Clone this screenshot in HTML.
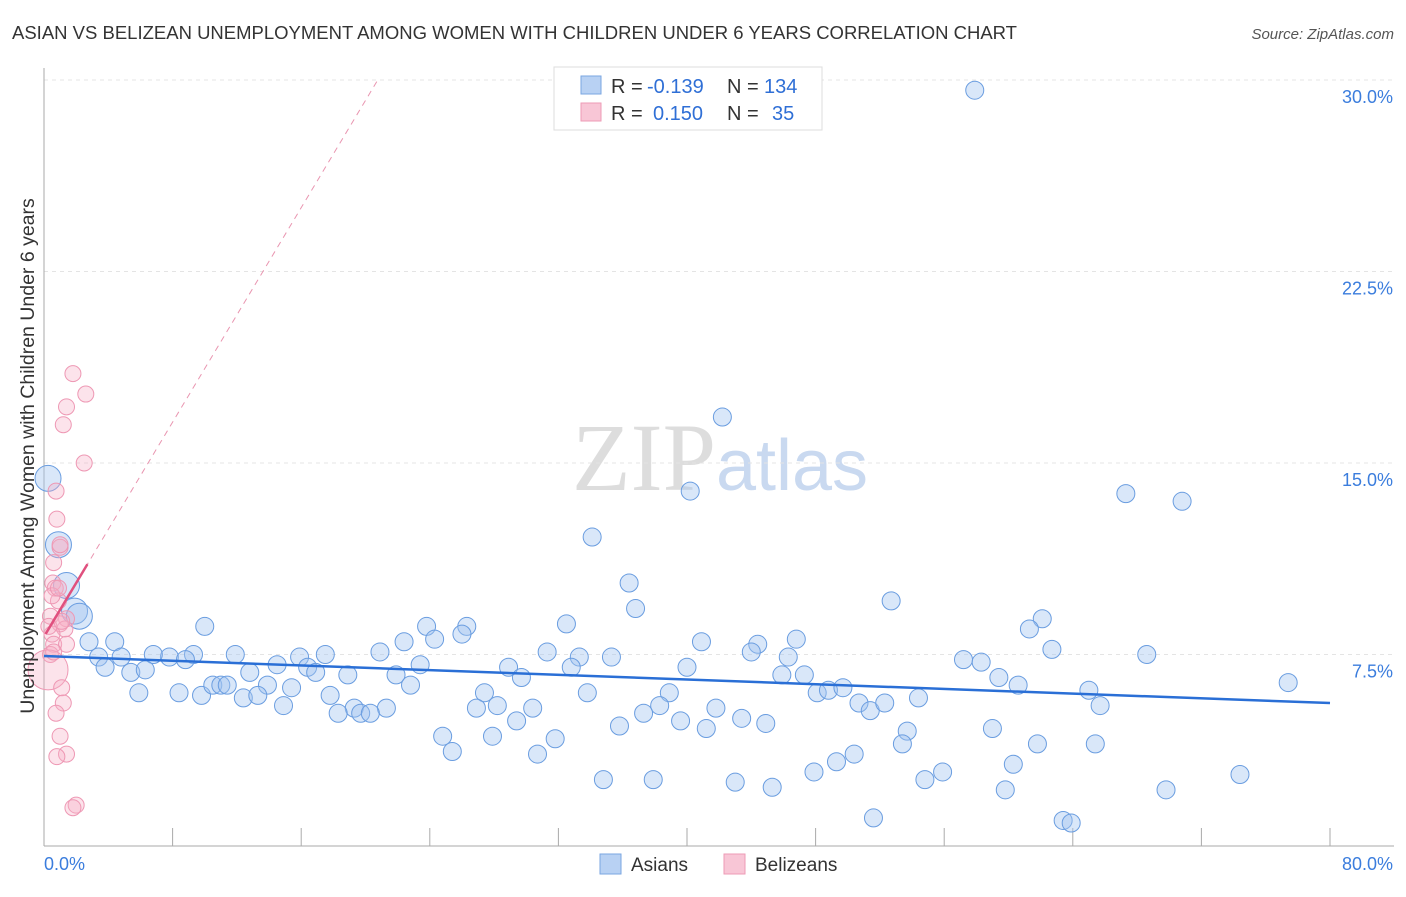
<!DOCTYPE html>
<html><head><meta charset="utf-8"><style>
body{margin:0;background:#fff;font-family:"Liberation Sans",sans-serif;}
</style></head><body>
<svg id="chart" width="1406" height="892" xmlns="http://www.w3.org/2000/svg" font-family="Liberation Sans, sans-serif">
<text x="12" y="39" font-size="18.5" fill="#333">ASIAN VS BELIZEAN UNEMPLOYMENT AMONG WOMEN WITH CHILDREN UNDER 6 YEARS CORRELATION CHART</text>
<text x="1394" y="39" font-size="15" fill="#555" text-anchor="end" font-style="italic">Source: ZipAtlas.com</text>
<text x="720" y="490" font-size="96" text-anchor="middle" fill="#ddd" font-family="Liberation Serif, serif">ZIP<tspan fill="#c9d9f0" font-family="Liberation Sans, sans-serif" font-size="72">atlas</tspan></text>
<g id="grid"></g><g id="axes"></g><g id="marks"></g>
<text transform="translate(34,456) rotate(-90)" font-size="19.5" fill="#333" text-anchor="middle">Unemployment Among Women with Children Under 6 years</text>
<g>
<rect x="554" y="67" width="268" height="63" fill="#fff" stroke="#ddd"/>
<rect x="581" y="76" width="20" height="18" fill="#b8d1f3" stroke="#7aa6e0"/>
<rect x="581" y="103" width="20" height="18" fill="#f8c6d6" stroke="#ee9bb6"/>
<text x="611" y="93" font-size="20" fill="#333">R =</text>
<text x="647" y="93" font-size="20" fill="#2f6fd6">-0.139</text>
<text x="727" y="93" font-size="20" fill="#333">N =</text>
<text x="764" y="93" font-size="20" fill="#2f6fd6">134</text>
<text x="611" y="120" font-size="20" fill="#333">R =</text>
<text x="653" y="120" font-size="20" fill="#2f6fd6">0.150</text>
<text x="727" y="120" font-size="20" fill="#333">N =</text>
<text x="772" y="120" font-size="20" fill="#2f6fd6">35</text>
</g>
<g>
<rect x="600" y="854" width="21" height="20" fill="#b8d1f3" stroke="#7aa6e0"/>
<text x="631" y="871" font-size="19" fill="#333">Asians</text>
<rect x="724" y="854" width="21" height="20" fill="#f8c6d6" stroke="#ee9bb6"/>
<text x="755" y="871" font-size="19" fill="#333">Belizeans</text>
</g>
</svg>
<script>
const yTicks=[7.5,15,22.5,30];
const yTickLabels=["7.5%","15.0%","22.5%","30.0%"];
const asianX=[57.9,42.2,40.2,67.3,70.8,34.1,36.4,36.8,52.7,62.1,61.3,32.5,23.8,26.3,26.0,22.4,24.3,10.0,4.4,2.8,40.9,44.4,46.8,62.7,44.0,31.3,20.9,17.5,11.9,9.3,7.8,6.8,15.9,35.3,33.3,4.8,3.4,8.8,46.3,57.2,58.3,68.6,77.4,14.5,16.4,23.4,32.8,28.9,40.0,3.8,5.4,6.3,12.8,16.9,18.9,21.9,29.7,45.9,47.3,59.4,60.6,65.0,5.9,8.4,9.8,10.5,11.0,11.4,13.9,15.4,12.4,13.3,22.8,27.4,33.8,38.9,48.1,48.8,49.7,54.4,14.9,17.8,19.3,21.3,28.2,26.9,30.4,38.3,41.8,50.7,51.4,52.3,65.7,18.3,19.7,20.3,29.4,37.3,39.6,43.4,44.9,35.8,41.2,24.8,27.9,31.8,53.7,59.0,53.4,61.8,65.4,25.4,30.7,50.4,49.3,60.3,55.9,47.9,74.4,34.8,37.9,43.0,54.8,45.3,59.8,69.8,51.6,63.4,63.9,0.25,0.9,1.4,1.9,2.2];
const asianY=[29.6,16.8,13.9,13.8,13.5,12.1,10.3,9.3,9.6,8.9,8.5,8.7,8.6,8.6,8.3,8.0,8.1,8.6,8.0,8.0,8.0,7.9,8.1,7.7,7.6,7.6,7.6,7.5,7.5,7.5,7.4,7.5,7.4,7.4,7.4,7.4,7.4,7.3,7.4,7.3,7.2,7.5,6.4,7.1,7.0,7.1,7.0,7.0,7.0,7.0,6.8,6.9,6.8,6.8,6.7,6.7,6.6,6.7,6.7,6.6,6.3,6.1,6.0,6.0,5.9,6.3,6.3,6.3,6.3,6.2,5.8,5.9,6.3,6.0,6.0,6.0,6.0,6.1,6.2,5.8,5.5,5.9,5.4,5.4,5.5,5.4,5.4,5.5,5.4,5.6,5.3,5.6,5.5,5.2,5.2,5.2,4.9,5.2,4.9,5.0,4.8,4.7,4.6,4.3,4.3,4.2,4.5,4.6,4.0,4.0,4.0,3.7,3.6,3.6,3.3,3.2,2.9,2.9,2.8,2.6,2.6,2.5,2.6,2.3,2.2,2.2,1.1,1.0,0.9,14.4,11.8,10.2,9.2,9.0];
const belizeX=[1.8,2.6,1.4,1.2,2.5,0.75,0.8,1.0,0.6,0.55,0.7,0.9,0.4,1.4,1.0,1.3,0.5,0.6,1.4,0.4,0.25,1.1,1.2,0.75,1.0,1.4,0.8,2.0,1.8,1.0,0.5,0.9,0.3,0.6,1.1];
const belizeY=[18.5,17.7,17.2,16.5,15.0,13.9,12.8,11.7,11.1,10.3,10.1,9.6,9.0,8.9,8.7,8.5,8.3,7.9,7.9,7.5,6.9,6.2,5.6,5.2,4.3,3.6,3.5,1.6,1.5,11.8,9.8,10.1,8.6,7.6,8.8];
const asianTrend=[7.44,5.6];
const belizeTrend=[8.2,1.05];
const NS="http://www.w3.org/2000/svg";
const X0=44,X1=1330,YB=846,YT=80;
const sx=v=>X0+(v/80)*(X1-X0);
const sy=v=>YB-(v/30)*(YB-YT);
function mk(tag,attrs,parent){const e=document.createElementNS(NS,tag);for(const k in attrs)e.setAttribute(k,attrs[k]);document.getElementById(parent).appendChild(e);return e;}
yTicks.forEach((t,i)=>{
 const g=mk('line',{x1:X0,x2:1394,y1:sy(t),y2:sy(t),stroke:'#e4e4e4','stroke-dasharray':'4,4'},'grid');
 
 
 const l=mk('text',{x:1393,y:sy(t)+23,'font-size':18,fill:'#3b7ddd','text-anchor':'end'},'grid');
 l.textContent=yTickLabels[i];
 
 
});
const ax=mk('line',{x1:X0,x2:X0,y1:68,y2:YB,stroke:'#aaa'},'axes');


const bx=mk('line',{x1:X0,x2:1394,y1:YB,y2:YB,stroke:'#aaa'},'axes');


for(let i=0;i<=10;i++){
 const t=mk('line',{x1:sx(i*8),x2:sx(i*8),y1:YB,y2:YB-18,stroke:'#aaa'},'axes');
 
 
}
const xl0=mk('text',{x:44,y:870,'font-size':18,fill:'#3b7ddd'},'axes');xl0.textContent='0.0%';


const xl1=mk('text',{x:1393,y:870,'font-size':18,fill:'#3b7ddd','text-anchor':'end'},'axes');xl1.textContent='80.0%';


asianX.forEach((x,i)=>{
 const big=x<2.5&&asianY[i]>8.8;
 const c=mk('circle',{cx:sx(x),cy:sy(asianY[i]),r:big?13:9,fill:'rgba(160,196,240,0.4)',stroke:'#6a9de0','stroke-width':1},'marks');
 
 
});
belizeX.forEach((x,i)=>{
 const c=mk('circle',{cx:sx(x),cy:sy(belizeY[i]),r:i==20?20:8,fill:'rgba(245,175,198,0.35)',stroke:'#ee98b4','stroke-width':1},'marks');
 
 
});
const at=mk('line',{x1:sx(0),y1:sy(asianTrend[0]),x2:sx(80),y2:sy(asianTrend[1]),stroke:'#2a6fd6','stroke-width':2.5},'marks');


const bd=mk('line',{x1:sx(0.1),y1:sy(belizeTrend[0]+0.1*belizeTrend[1]),x2:sx((30-belizeTrend[0])/belizeTrend[1]),y2:sy(30),stroke:'#e995b0','stroke-width':1,'stroke-dasharray':'6,5'},'marks');


const bt=mk('line',{x1:sx(0.1),y1:sy(belizeTrend[0]+0.1*belizeTrend[1]),x2:sx(2.7),y2:sy(belizeTrend[0]+2.7*belizeTrend[1]),stroke:'#e0507e','stroke-width':2.5},'marks');


</script>
</body></html>
